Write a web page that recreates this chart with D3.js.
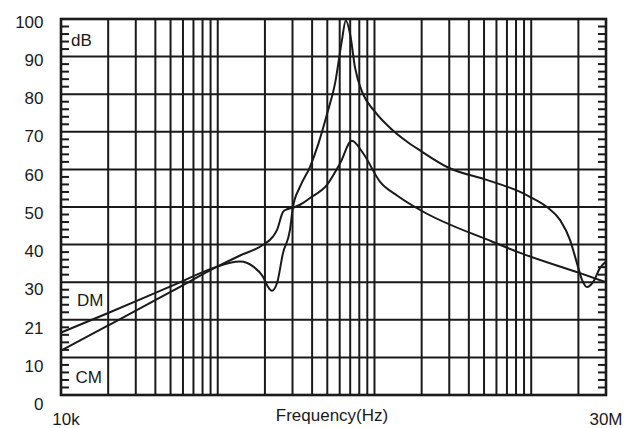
<!DOCTYPE html>
<html>
<head>
<meta charset="utf-8">
<script src="https://cdn.jsdelivr.net/npm/d3@7"></script>
<style>
    body { margin: 0; background: #fff; }
    text { font-family: "Liberation Sans", Arial, sans-serif; fill: #1a1a1a; }
</style>
</head>
<body>
<div id="chart"></div>
<script>
// insertion loss chart
//
// two attenuation curves (DM / CM) over a log frequency axis, 10k .. 30M

// frequency values in Hz, attenuation in dB
const dmFreq = [10e3, 20e3, 50e3, 100e3, 120e3, 139e3, 168e3, 194e3, 209e3, 221e3, 239e3, 261e3,
    289e3, 302e3, 335e3, 388e3, 440e3, 500e3, 561e3, 618e3, 656e3, 699e3, 752e3, 846e3,
    1.0e6, 1.3e6, 1.6e6, 1.96e6, 2.95e6, 5.2e6, 8.5e6, 9.8e6, 12.6e6, 15.3e6, 17.7e6,
    19.6e6, 21.1e6, 22.7e6, 24.8e6, 27.5e6, 30e6];
const dmDb = [16.6, 21.8, 28.9, 34.2, 35.2, 35.5, 34.2, 31.5, 28.8, 27.7, 29.8, 37.8,
    43.9, 50, 55.4, 60.7, 67, 75, 83, 94, 99.6, 96, 87, 80,
    75.5, 70.5, 67.5, 65, 60.5, 57.2, 54, 52.7, 50, 46.5, 41.2,
    35, 30.6, 28.7, 30, 33.8, 35.5];

const cmFreq = [10e3, 20e3, 50e3, 100e3, 139e3, 194e3, 225e3, 239e3, 261e3, 277e3, 302e3,
    335e3, 388e3, 496e3, 603e3, 717e3, 846e3, 1.086e6, 1.4e6, 1.955e6, 5.71e6, 8.5e6, 20.5e6, 30e6];
const cmDb = [11.8, 18.5, 27.4, 34.2, 37.1, 39.9, 42.1, 43.9, 48.7, 49.4, 49.8,
    50.6, 52.4, 55.8, 61.6, 67.6, 64.3, 56.7, 53, 49.2, 40.7, 37.8, 32.4, 30];

// axis ticks
const yTicks = [0, 10, 20, 30, 40, 50, 60, 70, 80, 90, 100];
const yTickLabels = ['0', '10', '21', '30', '40', '50', '60', '70', '80', '90', '100'];
const yMinor = [2, 4, 6, 8, 12, 14, 16, 18, 22, 24, 26, 28, 32, 34, 36, 38, 42, 44, 46, 48,
    52, 54, 56, 58, 62, 64, 66, 68, 72, 74, 76, 78, 82, 84, 86, 88, 92, 94, 96, 98];
const xGrid = [20e3, 30e3, 40e3, 50e3, 60e3, 70e3, 80e3, 90e3, 100e3,
    200e3, 300e3, 400e3, 500e3, 600e3, 700e3, 800e3, 900e3, 1e6,
    2e6, 3e6, 4e6, 5e6, 6e6, 7e6, 8e6, 9e6, 10e6, 20e6];
const xLabels = [
    { f: 10e3, text: '10k' },
    { f: 30e6, text: '30M' }
];

const width = 640, height = 428;
const margin = { top: 19, right: 34, bottom: 33, left: 61 };
const ink = '#1a1a1a';

const svg = d3.select('#chart').append('svg')
    .attr('width', width)
    .attr('height', height);

const x = d3.scaleLog()
    .domain([10e3, 30e6])
    .range([margin.left, width - margin.right]);

const y = d3.scaleLinear()
    .domain([0, 100])
    .range([height - margin.bottom, margin.top]);

// labels sit a bit below their grid line, spread slightly wider
const yLab = d3.scaleLinear()
    .domain([0, 100])
    .range([410, 27.5]);

const [left, right] = x.range();

// grid
svg.append('g')
    .selectAll('line')
    .data(xGrid)
    .join('line')
    .attr('x1', d => x(d)).attr('x2', d => x(d))
    .attr('y1', y(0)).attr('y2', y(100))
    .attr('stroke', ink)
    .attr('stroke-width', 2);

svg.append('g')
    .selectAll('line')
    .data(yTicks.slice(1, -1))
    .join('line')
    .attr('x1', left).attr('x2', right)
    .attr('y1', d => y(d)).attr('y2', d => y(d))
    .attr('stroke', ink)
    .attr('stroke-width', 2);

// minor ticks every 2 dB, inside the frame on both sides
svg.append('g')
    .attr('class', 'minor-left')
    .selectAll('line')
    .data(yMinor)
    .join('line')
    .attr('x1', left).attr('x2', left + 8)
    .attr('y1', d => y(d)).attr('y2', d => y(d))
    .attr('stroke', ink)
    .attr('stroke-width', 2);

svg.append('g')
    .attr('class', 'minor-right')
    .selectAll('line')
    .data(yMinor)
    .join('line')
    .attr('x1', right - 8).attr('x2', right)
    .attr('y1', d => y(d)).attr('y2', d => y(d))
    .attr('stroke', ink)
    .attr('stroke-width', 2);

// frame
svg.append('rect')
    .attr('x', left)
    .attr('y', y(100))
    .attr('width', right - left)
    .attr('height', y(0) - y(100))
    .attr('fill', 'none')
    .attr('stroke', ink)
    .attr('stroke-width', 2.6);

// curves
const line = d3.line()
    .x(d => x(d[0]))
    .y(d => y(d[1]))
    .curve(d3.curveMonotoneX);

[[dmFreq, dmDb], [cmFreq, cmDb]].forEach(([f, v]) => {
    svg.append('path')
        .datum(d3.zip(f, v))
        .attr('d', line)
        .attr('fill', 'none')
        .attr('stroke', ink)
        .attr('stroke-width', 2);
});

// y labels
svg.append('g')
    .selectAll('text')
    .data(yTicks)
    .join('text')
    .attr('x', 43.5)
    .attr('y', d => yLab(d))
    .attr('text-anchor', 'end')
    .style('font-size', '17px')
    .text((d, i) => yTickLabels[i]);

// x labels
svg.append('g')
    .selectAll('text')
    .data(xLabels)
    .join('text')
    .attr('x', d => x(d.f) + (d.f === 10e3 ? 5 : 0))
    .attr('y', 425)
    .attr('text-anchor', 'middle')
    .style('font-size', '17px')
    .text(d => d.text);

svg.append('text')
    .attr('x', 332)
    .attr('y', 421)
    .attr('text-anchor', 'middle')
    .style('font-size', '17px')
    .text('Frequency(Hz)');

// inline annotations
const notes = [
    { text: 'dB', x: 71, y: 45.5 },
    { text: 'DM', x: 77, y: 306 },
    { text: 'CM', x: 75.5, y: 383 }
];
svg.append('g')
    .selectAll('text')
    .data(notes)
    .join('text')
    .attr('x', d => d.x)
    .attr('y', d => d.y)
    .style('font-size', '17px')
    .text(d => d.text);
</script>
</body>
</html>
